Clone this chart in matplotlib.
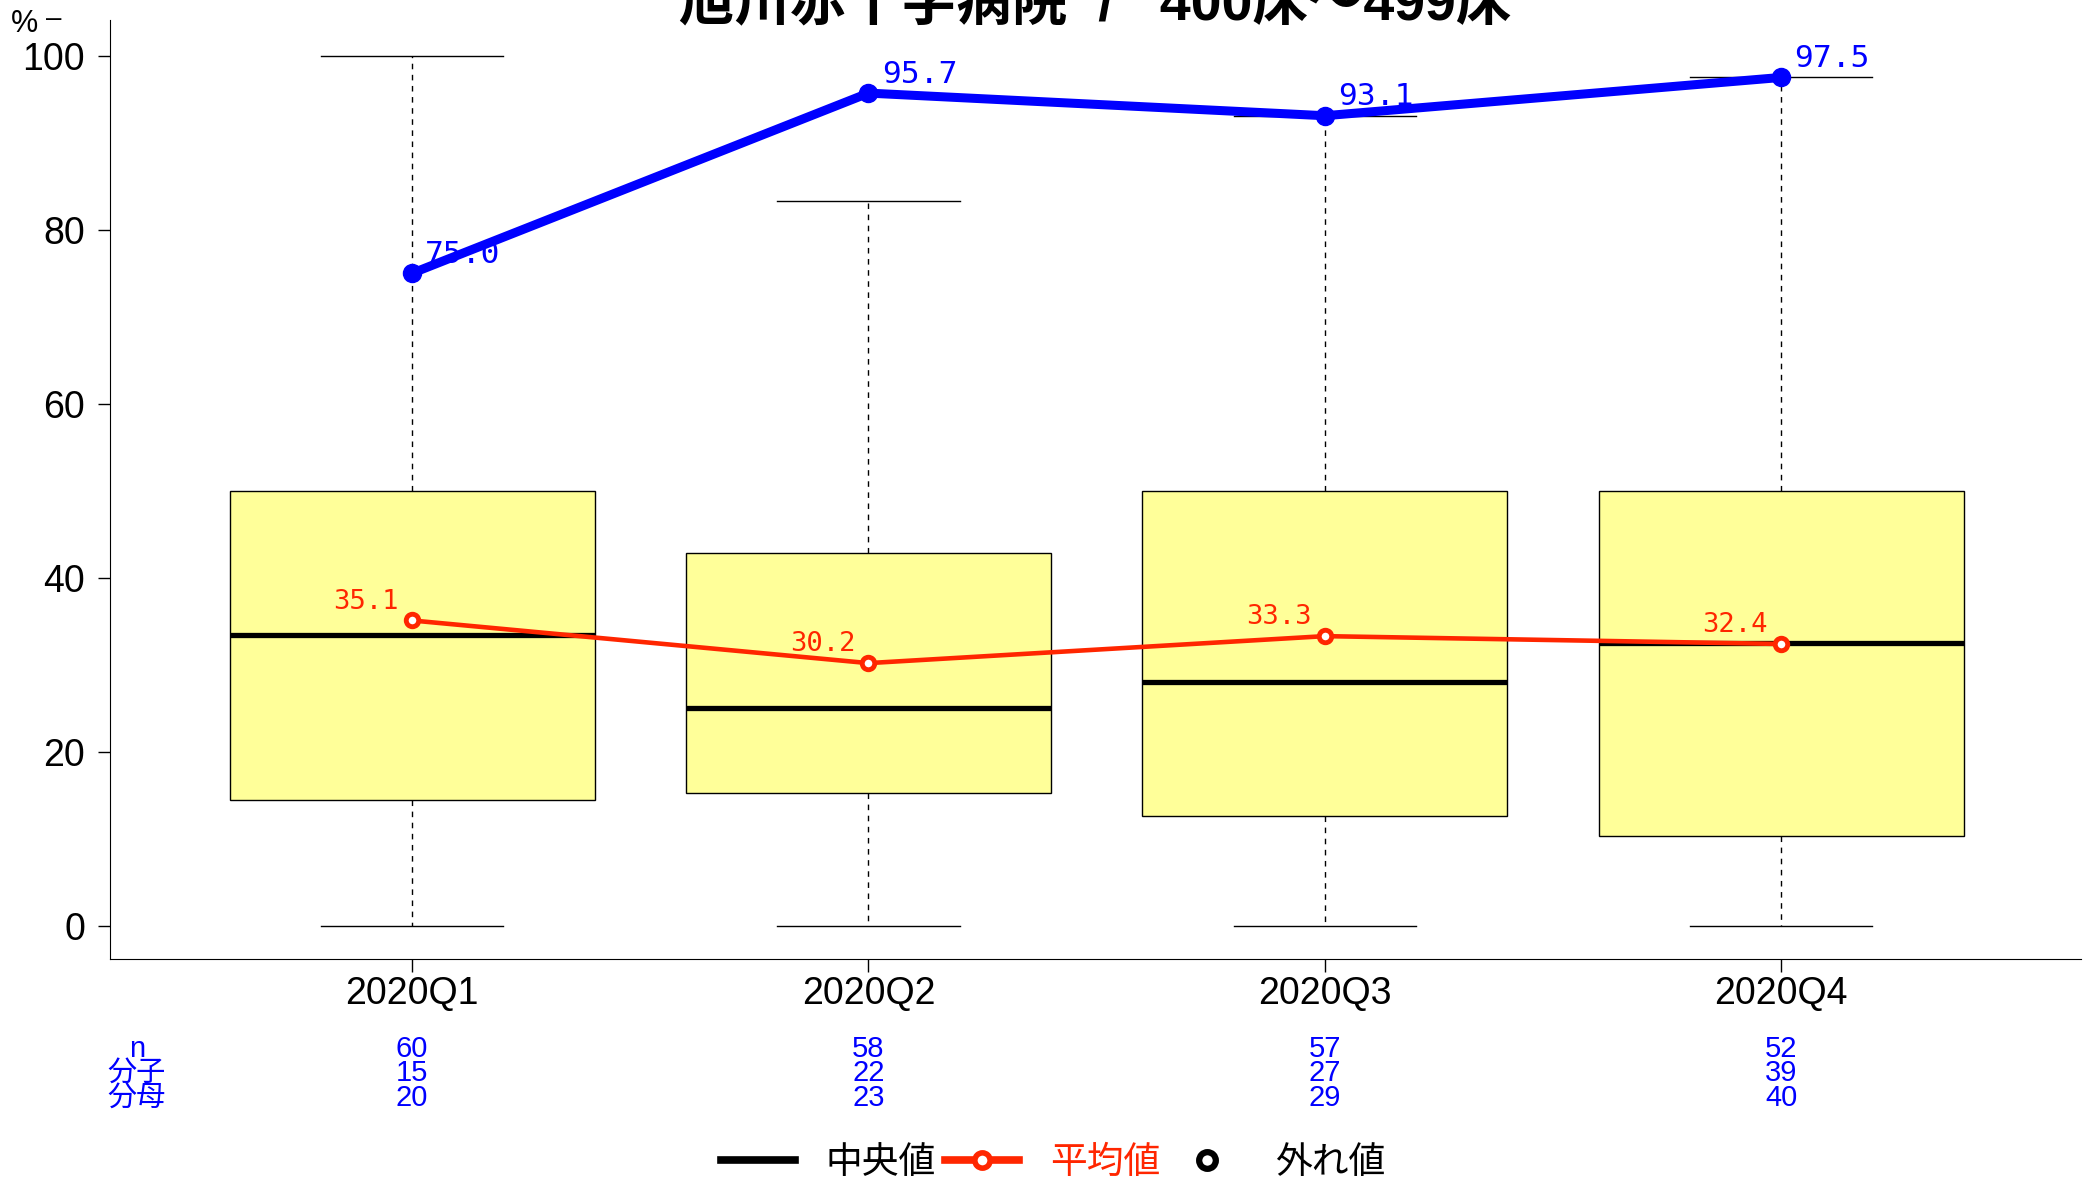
import matplotlib
matplotlib.use('Agg')
import matplotlib.pyplot as plt
from matplotlib.lines import Line2D
from matplotlib.transforms import blended_transform_factory

plt.rcParams['font.family'] = ['Liberation Sans', 'Noto Sans CJK JP']

# data
quarters = ['2020Q1', '2020Q2', '2020Q3', '2020Q4']
n_hosp = [60, 58, 57, 52]
numer = [15, 22, 27, 39]
denom = [20, 23, 29, 40]
hosp_rate = [75.0, 95.7, 93.1, 97.5]
mean_rate = [35.1, 30.2, 33.3, 32.4]
median_rate = [33.4, 25.0, 28.0, 32.5]
q1_rate = [14.5, 15.3, 12.6, 10.3]
q3_rate = [50.0, 42.9, 50.0, 50.0]
whis_lo = [0.0, 0.0, 0.0, 0.0]
whis_hi = [100.0, 83.3, 93.1, 97.5]

title = '旭川赤十字病院  /   400床～499床'
red = '#FF2600'
pos = list(range(1, len(quarters) + 1))

fig = plt.figure(figsize=(20.89, 11.81), dpi=100)
ax = fig.add_axes([110 / 2089, 1 - 959 / 1181, (2081 - 110) / 2089, (959 - 20) / 1181])

stats = []
for i in range(len(quarters)):
    stats.append(dict(med=median_rate[i], q1=q1_rate[i], q3=q3_rate[i],
                      whislo=whis_lo[i], whishi=whis_hi[i], fliers=[]))

ax.bxp(stats, positions=pos, widths=0.8, capwidths=0.4, patch_artist=True,
       showfliers=False,
       boxprops=dict(facecolor='#FFFF99', edgecolor='black', linewidth=1),
       medianprops=dict(color='black', linewidth=3.8, solid_capstyle='butt'),
       whiskerprops=dict(color='black', linewidth=1, linestyle=(0, (4, 4))),
       capprops=dict(color='black', linewidth=1))

# mean line
ax.plot(pos, mean_rate, color=red, lw=3.3, marker='o', ms=9, mfc='white',
        mec=red, mew=3.5, zorder=4)
for x, v in zip(pos, mean_rate):
    ax.annotate(f'{v:.1f}', (x, v), xytext=(-9.5, 13.5), textcoords='offset points',
                ha='right', va='center', color=red, fontsize=19.5,
                family='DejaVu Sans Mono', zorder=3)

# hospital line
ax.plot(pos, hosp_rate, color='blue', lw=6.5, marker='o', ms=13, zorder=5)
for x, v in zip(pos, hosp_rate):
    ax.annotate(f'{v:.1f}', (x, v), xytext=(9.5, 13.5), textcoords='offset points',
                ha='left', va='center', color='blue', fontsize=22.5,
                family='DejaVu Sans Mono', zorder=3)

ax.set_xlim(0.338, 4.657)
ax.set_ylim(-3.8, 104.1)
ax.set_yticks([0, 20, 40, 60, 80, 100])
ax.set_xticks(pos)
ax.set_xticklabels(quarters)
ax.spines['top'].set_visible(False)
ax.spines['right'].set_visible(False)
ax.tick_params(axis='y', labelsize=27, length=9, width=1, pad=9)
ax.tick_params(axis='x', labelsize=27, length=9, width=1, pad=3)

# title (cut at top as in the reference)
fig.text(1095 / 2089, 1 - 20 / 1181, title, ha='center', va='baseline',
         fontsize=40, fontweight='bold')
fig.text(24 / 2089, 1 - 24 / 1181, '%', ha='center', va='center', fontsize=22)
fig.text(54 / 2089, 1 - 19 / 1181, '–', ha='center', va='center', fontsize=20)

# count table under the axis
trans = blended_transform_factory(ax.transData, fig.transFigure)
row_y = [1 - 1049 / 1181, 1 - 1073 / 1181, 1 - 1098 / 1181]
row_labels = ['n', '分子', '分母']
row_vals = [n_hosp, numer, denom]
for lab, yy, vals in zip(row_labels, row_y, row_vals):
    fig.text(137 / 2089, yy, lab, ha='center', va='center', color='blue', fontsize=21)
    for x, v in zip(pos, vals):
        ax.text(x, yy, str(v), transform=trans, ha='center', va='center',
                color='blue', fontsize=21)

# legend
handles = [
    Line2D([], [], color='black', lw=5.5),
    Line2D([], [], color=red, lw=5.5, marker='o', ms=11, mfc='white', mec=red, mew=4),
    Line2D([], [], color='black', lw=0, marker='o', ms=12, mfc='white', mec='black', mew=4.5),
]
leg = fig.legend(handles, ['中央値', '平均値', '外れ値'], loc='center',
                 bbox_to_anchor=(1053 / 2089, 1 - 1163 / 1181), ncol=3,
                 frameon=False, fontsize=26.5, handlelength=2.0,
                 handletextpad=0.85, columnspacing=0.25, borderpad=0)
leg.get_texts()[1].set_color(red)

fig.savefig('out.png', dpi=100)
